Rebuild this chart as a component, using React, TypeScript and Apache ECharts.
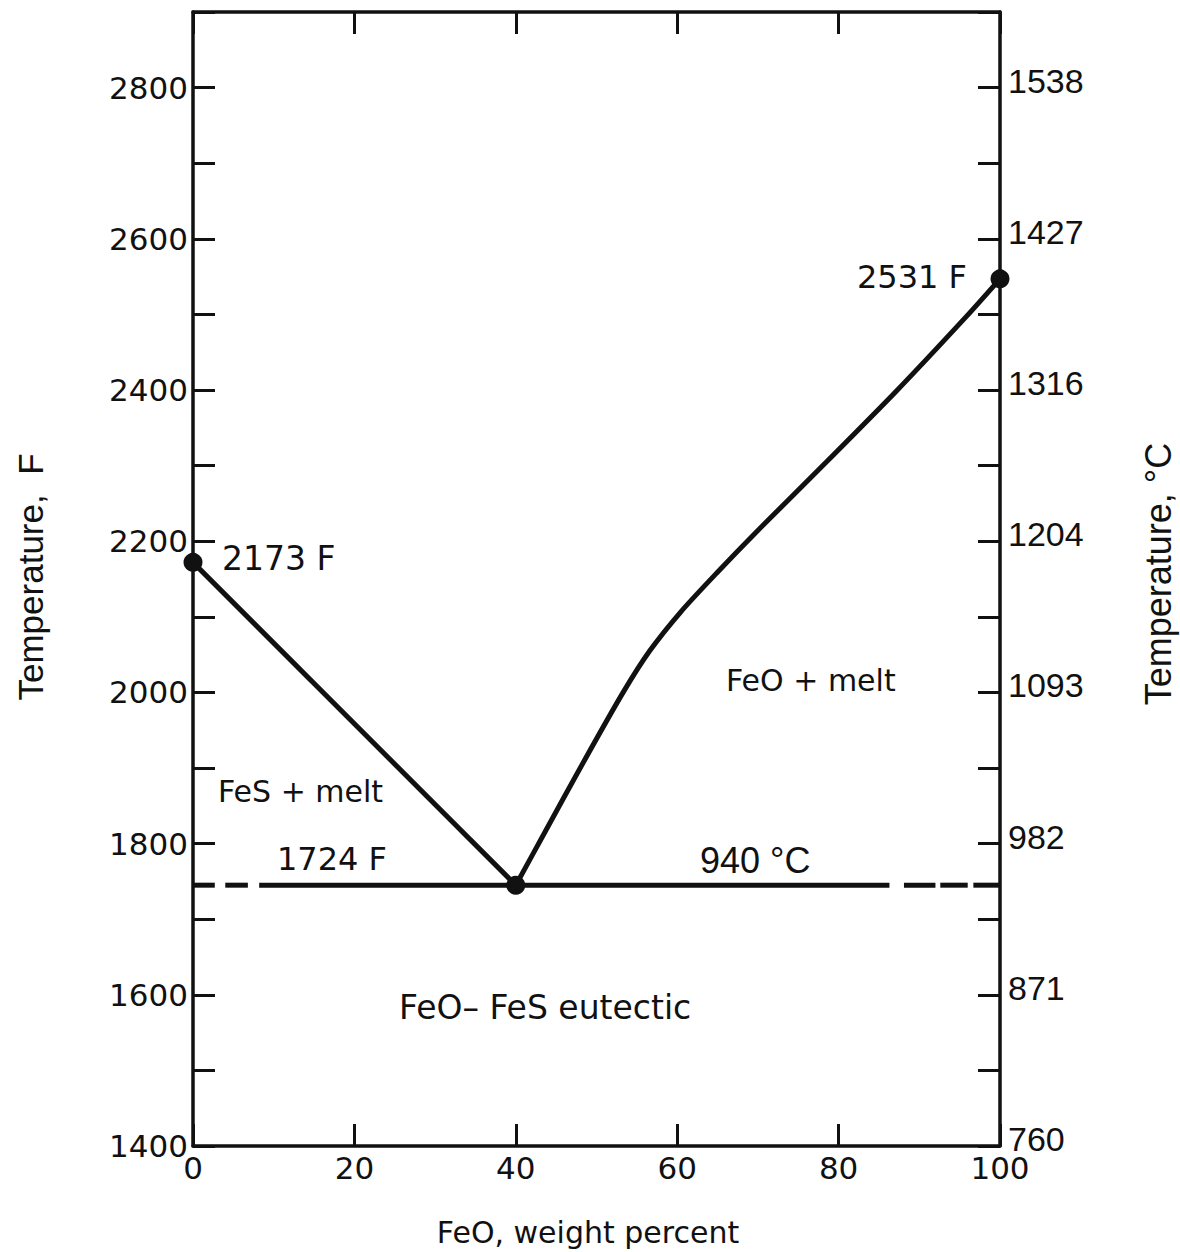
import React, { useEffect, useRef } from "react";
import * as echarts from "echarts";

// ---- data ----
const fTickLabels = ["1400", "1600", "1800", "2000", "2200", "2400", "2600", "2800"];
const cTickLabels = ["760", "871", "982", "1093", "1204", "1316", "1427", "1538"];

const fesLiquidusX = [0, 40];
const fesLiquidusF = [2172, 1745];

const feoLiquidusX = [40, 43.6, 48.5, 53.3, 56.6, 60.4, 64.9, 69.6, 78.7, 87.2, 95.9, 100];
const feoLiquidusF = [1745, 1815, 1910, 2000, 2055, 2106, 2158, 2210, 2307, 2399, 2498, 2547];

const eutecticF = 1745;
const eutecticSolid = [[8.2, 86.3]];
const eutecticDashes = [
  [0, 2.7],
  [4.0, 6.8],
  [88.1, 92.0],
  [92.6, 96.0],
  [96.7, 100],
];

const pointX = [0, 40, 100];
const pointF = [2172, 1745, 2547];

const INK = "#111";
const LETTER = "DejaVu Sans";
const ARIAL = "Liberation Sans";

const zip = (xs: number[], ys: number[]) => xs.map((x, i) => [x, ys[i]]);

export default function App() {
  const ref = useRef<HTMLDivElement>(null);

  useEffect(() => {
    if (!ref.current) return;
    const chart = echarts.init(ref.current, null, { renderer: "svg" });

    const axisLine = { show: true, onZero: false, lineStyle: { color: INK, width: 3.5 } };
    const axisTick = { show: true, inside: true, length: 22, lineStyle: { color: INK, width: 3 } };

    const labelFrom = (arr: string[]) => (v: number) => {
      const d = v - 1400;
      if (d % 200 !== 0) return "";
      return arr[d / 200] ?? "";
    };

    const lineSeries = (data: number[][], smooth: number | boolean = false) => ({
      type: "line",
      data,
      symbol: "none",
      xAxisIndex: 0,
      yAxisIndex: 0,
      lineStyle: { color: INK, width: 5, join: "round" },
      smooth,
      z: 3,
    });

    const txt = (text: string, x: number, y: number, font: string, size: number, align = "left", rotation = 0) => ({
      type: "text",
      x,
      y,
      rotation,
      style: {
        text,
        fill: INK,
        font: `${size}px "${font}"`,
        align,
        verticalAlign: "middle",
      },
      z: 10,
    });

    chart.setOption({
      animation: false,
      backgroundColor: "#fff",
      grid: { left: 193, right: 180, top: 12, bottom: 106, containLabel: false },
      xAxis: [
        {
          type: "value",
          min: 0,
          max: 100,
          interval: 20,
          position: "bottom",
          axisLine,
          axisTick,
          splitLine: { show: false },
          axisLabel: { fontFamily: LETTER, fontSize: 31, color: INK, margin: 6 },
        },
        {
          type: "value",
          min: 0,
          max: 100,
          interval: 20,
          position: "top",
          axisLine,
          axisTick,
          splitLine: { show: false },
          axisLabel: { show: false },
        },
      ],
      yAxis: [
        {
          type: "value",
          min: 1400,
          max: 2900,
          interval: 100,
          position: "left",
          axisLine,
          axisTick,
          splitLine: { show: false },
          axisLabel: { fontFamily: LETTER, fontSize: 31, color: INK, margin: 5, formatter: labelFrom(fTickLabels) },
        },
        {
          type: "value",
          min: 1400,
          max: 2900,
          interval: 100,
          position: "right",
          axisLine,
          axisTick,
          splitLine: { show: false },
          axisLabel: {
            fontFamily: ARIAL,
            fontSize: 34,
            color: INK,
            margin: 8,
            verticalAlign: "bottom",
            lineHeight: 14,
            formatter: labelFrom(cTickLabels),
          },
        },
      ],
      series: [
        lineSeries(zip(fesLiquidusX, fesLiquidusF)),
        lineSeries(zip(feoLiquidusX, feoLiquidusF), 0.25),
        ...eutecticSolid.map((seg) => lineSeries(seg.map((x) => [x, eutecticF]))),
        ...eutecticDashes.map((seg) => lineSeries(seg.map((x) => [x, eutecticF]))),
        {
          type: "scatter",
          data: zip(pointX, pointF),
          symbol: "circle",
          symbolSize: 19,
          itemStyle: { color: INK, opacity: 1 },
          xAxisIndex: 0,
          yAxisIndex: 0,
          z: 5,
        },
      ],
      graphic: [
        txt("2173 F", 222, 558, LETTER, 33),
        txt("2531 F", 967, 277, LETTER, 32, "right"),
        txt("FeS + melt", 218, 791, LETTER, 30),
        txt("1724 F", 277, 859, LETTER, 32),
        txt("940 °C", 700, 860, ARIAL, 36),
        txt("FeO + melt", 726, 680, LETTER, 30),
        txt("FeO– FeS eutectic", 399, 1007, LETTER, 33),
        txt("FeO, weight percent", 588, 1232, LETTER, 30, "center"),
        txt("Temperature,  F", 30, 577, ARIAL, 35, "center", Math.PI / 2),
        txt("Temperature, °C", 1158, 574, ARIAL, 36, "center", Math.PI / 2),
      ],
    });

    return () => chart.dispose();
  }, []);

  return (
    <div
      ref={ref}
      style={{ position: "fixed", left: 0, top: 0, width: 1180, height: 1252, background: "#fff" }}
    />
  );
}
